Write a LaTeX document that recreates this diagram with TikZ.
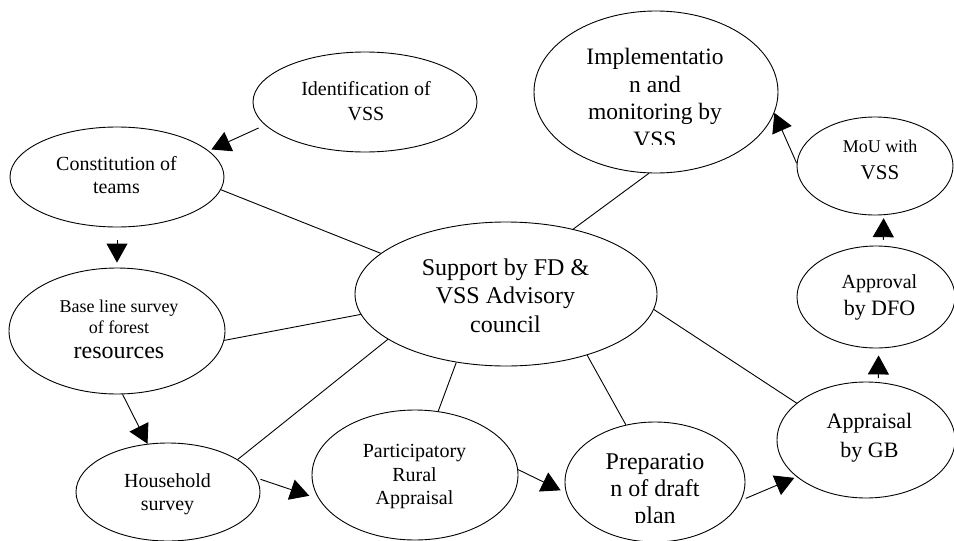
\documentclass[tikz,border=0pt]{standalone}
\usepackage{fontspec}
\setmainfont{Liberation Serif}
\usetikzlibrary{shapes.geometric,arrows.meta}
\begin{document}
\begin{tikzpicture}[x=1pt,y=-1pt,
  oval/.style={ellipse,draw,line width=0.9pt,inner sep=0pt},
  txt/.style={align=center,inner sep=0pt},
  link/.style={line width=0.9pt},
  flow/.style={line width=0.9pt,-{Triangle[length=19pt,width=21pt]}},
]
\useasboundingbox[fill=white] (0,0) rectangle (954,541);

% ellipses
\node[oval,minimum width=224pt,minimum height=100pt] (ident) at (365,102) {};
\node[oval,minimum width=214pt,minimum height=100pt] (const) at (117,177) {};
\node[oval,minimum width=216pt,minimum height=126pt] (base)  at (117,331) {};
\node[oval,minimum width=184pt,minimum height=98pt]  (house) at (168,492) {};
\node[oval,minimum width=206pt,minimum height=130pt] (pra)   at (415,475) {};
\node[oval,minimum width=180pt,minimum height=120pt] (prep)  at (655,482) {};
\node[oval,minimum width=178pt,minimum height=116pt] (gb)    at (866,440) {};
\node[oval,minimum width=158pt,minimum height=102pt] (dfo)   at (876,297) {};
\node[oval,minimum width=156pt,minimum height=98pt]  (mou)   at (875,166) {};
\node[oval,minimum width=244pt,minimum height=162pt] (impl)  at (656,92) {};
\node[oval,minimum width=302pt,minimum height=144pt] (supp)  at (506,294) {};

% texts
\node[txt,font=\fontsize{20}{25}\selectfont] (identtext) at (366,100.7) {Identification of\\VSS};
\node[txt,font=\fontsize{20}{23}\selectfont] (consttext) at (116.5,174.6) {Constitution of\\teams};
\node[txt,font=\fontsize{18}{21}\selectfont] (basetext) at (119,329) {Base line survey\\of forest\\[4pt]{\fontsize{24}{25}\selectfont resources}};
\node[txt,font=\fontsize{20}{23}\selectfont] (housetext) at (167.5,493.8) {Household\\survey};
\node[txt,font=\fontsize{20}{23.5}\selectfont] (pratext) at (414.5,476.8) {Participatory\\Rural\\Appraisal};
\begin{scope}
  \clip (560,420) rectangle (750,522);
  \node[txt,font=\fontsize{24}{27}\selectfont] (preptext) at (655,491.4) {Preparatio\\n of draft\\plan};
\end{scope}
\node[txt,font=\fontsize{24}{28.5}\selectfont] (supptext) at (505.5,295.3) {Support by FD \&\\VSS Advisory\\council};
\begin{scope}
  \clip (534,10) rectangle (780,144);
  \node[txt,font=\fontsize{23.5}{27.5}\selectfont] (impltext) at (655,98.25) {Implementatio\\n and\\monitoring by\\VSS};
\end{scope}
\node[txt,font=\fontsize{22}{29}\selectfont] (gbtext) at (869.5,437.4) {Appraisal\\by GB};
\node[txt,font=\fontsize{20}{27}\selectfont] (dfotext) at (879.5,297) {Approval\\{\fontsize{22}{27}\selectfont by DFO}};
\node[txt,font=\fontsize{18}{27}\selectfont] (moutext) at (880,160.3) {MoU with\\{\fontsize{21}{27}\selectfont VSS}};

% process flow
\draw[flow,shorten <=7pt,shorten >=3pt] (ident.193) -- (const.16);
\draw[flow,shorten <=13pt,shorten >=5pt] (const.south) -- (base.north);
\draw[flow] (base.275) -- (house.113);
\draw[flow,shorten <=4pt,shorten >=10pt] (house.9) -- (pra.194);
\draw[flow,shorten >=6pt] (pra.3) -- (prep.187);
\draw[flow,shorten <=5pt,shorten >=2.5pt] (prep.348) -- (gb.208);
\draw[flow,shorten <=4pt,shorten >=7pt] (gb.78) -- (dfo.273);
\draw[flow,shorten <=6pt,shorten >=3pt] (dfo.82) -- (mou.280);
\draw[flow] (mou.178) -- (impl.350);

% support links
\draw[link] (supp.162) -- (const.353);
\draw[link] (supp.188) -- (base.355);
\draw[link] (supp.201) -- (house.25);
\draw[link] (supp.234) -- (pra.70);
\draw[link] (supp.323) -- (prep.117);
\draw[link] (supp.354) -- (gb.152);
\draw[link] (supp.44) -- (impl.265);
\end{tikzpicture}
\end{document}
